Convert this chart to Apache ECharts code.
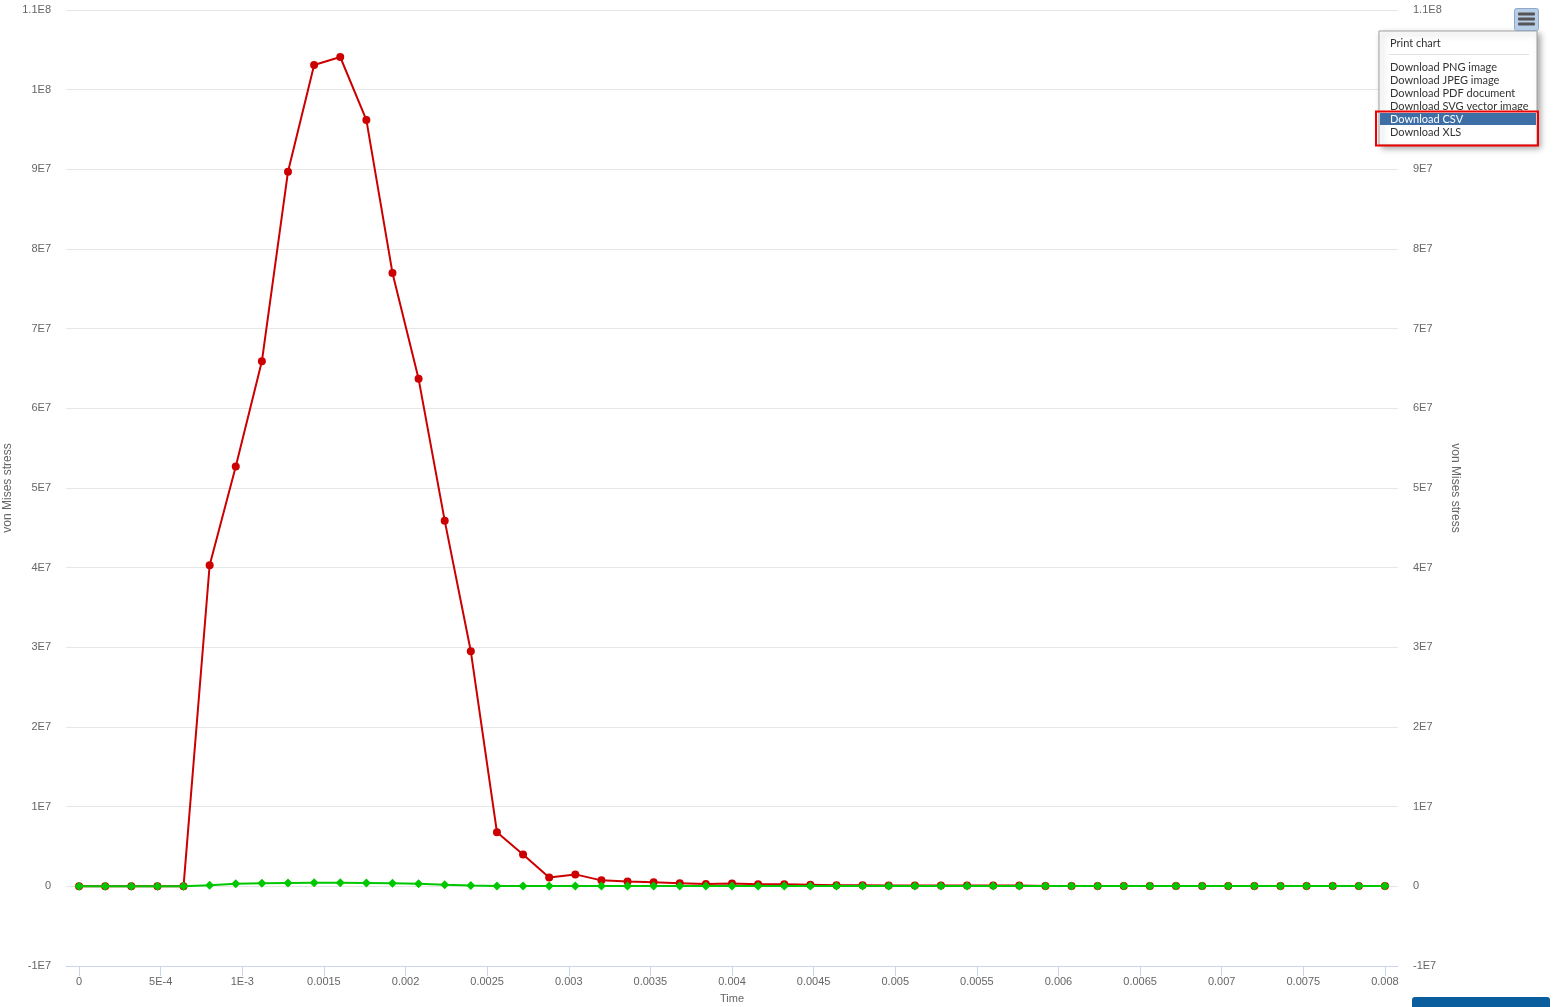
<!DOCTYPE html>
<html>
<head>
<meta charset="utf-8">
<script src="https://cdn.jsdelivr.net/npm/echarts@6/dist/echarts.min.js"></script>
<style>
html,body{margin:0;padding:0;background:#fff;}
#chart{width:1559px;height:1007px;}
</style>
</head>
<body>
<div id="chart"></div>
<script>
// ---- data ----
const timeValues = [0,0.00016,0.00032,0.00048,0.00064,0.0008,0.00096,0.00112,0.00128,0.00144,0.0016,0.00176,0.00192,0.00208,0.00224,0.0024,0.00256,0.00272,0.00288,0.00304,0.0032,0.00336,0.00352,0.00368,0.00384,0.004,0.00416,0.00432,0.00448,0.00464,0.0048,0.00496,0.00512,0.00528,0.00544,0.0056,0.00576,0.00592,0.00608,0.00624,0.0064,0.00656,0.00672,0.00688,0.00704,0.0072,0.00736,0.00752,0.00768,0.00784,0.008];
const redStress = [0,0,0,0,0,4.03e7,5.27e7,6.59e7,8.97e7,1.031e8,1.041e8,9.62e7,7.70e7,6.37e7,4.59e7,2.95e7,6.8e6,4.0e6,1.1e6,1.5e6,7.5e5,6e5,5e5,4e5,3e5,3.5e5,2.5e5,2.5e5,2e5,1.5e5,1.5e5,1e5,1e5,1e5,1e5,1e5,1e5,5e4,5e4,5e4,5e4,5e4,5e4,5e4,5e4,5e4,5e4,5e4,5e4,5e4,5e4];
const greenStress = [0,0,0,0,0,1.5e5,3.2e5,4e5,4.3e5,4.4e5,4.4e5,4.3e5,4e5,3.2e5,2e5,1.2e5,5e4,5e4,5e4,5e4,5e4,5e4,5e4,5e4,5e4,5e4,5e4,5e4,5e4,5e4,5e4,5e4,5e4,5e4,5e4,5e4,5e4,5e4,5e4,5e4,5e4,5e4,5e4,5e4,5e4,5e4,5e4,5e4,5e4,5e4,5e4];
const xTickValues = [0,0.0005,0.001,0.0015,0.002,0.0025,0.003,0.0035,0.004,0.0045,0.005,0.0055,0.006,0.0065,0.007,0.0075,0.008];
const xTickLabels = ['0','5E-4','1E-3','0.0015','0.002','0.0025','0.003','0.0035','0.004','0.0045','0.005','0.0055','0.006','0.0065','0.007','0.0075','0.008'];
const menuItems = ['Print chart','Download PNG image','Download JPEG image','Download PDF document','Download SVG vector image','Download CSV','Download XLS'];
const xAxisName = 'Time';
const yAxisName = 'von Mises stress';

function fmtY(v){
  if (Math.abs(v) < 1) return '0';
  const e = Math.floor(Math.log10(Math.abs(v)) + 1e-9);
  let m = v / Math.pow(10, e);
  m = Math.round(m * 100) / 100;
  return m + 'E' + e;
}

const redData = timeValues.map((t,i)=>[t, redStress[i]]);
const greenData = timeValues.map((t,i)=>[t, greenStress[i]]);

const labelStyle = {color:'#666666', fontSize:11, fontFamily:'Liberation Sans, Arial, sans-serif'};

const yAxisCommon = {
  type:'value', min:-1e7, max:1.1e8, interval:1e7,
  name: yAxisName, nameLocation:'middle', nameMoveOverlap:false,
  nameTextStyle: {color:'#666666', fontSize:12, fontFamily:'Liberation Sans, Arial, sans-serif'},
  axisLine:{show:false}, axisTick:{show:false},
};

const chart = echarts.init(document.getElementById('chart'), null, {renderer:'canvas'});

// menu graphics
const menuX = 1379, menuY = 31, menuW = 158, menuH = 114;
const menuGraphics = [
  {type:'rect', shape:{x:menuX, y:menuY, width:menuW, height:menuH},
   style:{fill:'#ffffff', stroke:'#a0a0a0', lineWidth:1, shadowBlur:6, shadowOffsetX:3, shadowOffsetY:3, shadowColor:'rgba(0,0,0,0.35)'}, z:100},
  {type:'line', shape:{x1:menuX+10, y1:54.5, x2:menuX+menuW-8, y2:54.5}, style:{stroke:'#e0e0e0', lineWidth:1}, z:101},
  {type:'rect', shape:{x:1380, y:113, width:156, height:12}, style:{fill:'#3d6ea5'}, z:101},
  {type:'rect', shape:{x:1376, y:111.5, width:162, height:34}, style:{fill:'none', stroke:'#ee0000', lineWidth:2}, z:103},
];
const menuYs = [43,67,80,93,106,119,132];
menuItems.forEach((t,i)=>{
  menuGraphics.push({type:'text', x:1390, y:menuYs[i], z:102,
    style:{text:t, fill: i===5 ? '#ffffff' : '#333333', font:'11px Lato, "Open Sans", sans-serif', textVerticalAlign:'middle'}});
});
// hamburger button
menuGraphics.push({type:'rect', shape:{x:1514.5, y:8.5, width:24, height:22, r:2}, style:{fill:'#b8cde6', stroke:'#8fa8c8', lineWidth:1}, z:100});
[14,19,24].forEach(yy=>{
  menuGraphics.push({type:'rect', shape:{x:1518, y:yy-1.5, width:17, height:3, r:1}, style:{fill:'#555555'}, z:101});
});
// blue bar at bottom right
menuGraphics.push({type:'rect', shape:{x:1412, y:997, width:138, height:14, r:3}, style:{fill:'#0b5e9e'}, z:100});

chart.setOption({
  animation:false,
  backgroundColor:'#ffffff',
  grid:{left:66, right:161, top:10, bottom:41, containLabel:false, outerBoundsMode:'none'},
  xAxis:{
    type:'value', min:-0.00008, max:0.00808,
    name:xAxisName, nameLocation:'middle', nameGap:27, nameMoveOverlap:false,
    nameTextStyle:{color:'#666666', fontSize:11, fontFamily:'Liberation Sans, Arial, sans-serif'},
    axisLine:{show:true, onZero:false, lineStyle:{color:'#ccd6eb', width:1}},
    axisTick:{show:true, customValues:xTickValues, length:10, lineStyle:{color:'#ccd6eb'}},
    axisLabel:Object.assign({customValues:xTickValues, margin:10, formatter:(v)=>{
      let idx = xTickValues.findIndex(x=>Math.abs(x-v)<1e-9); return idx>=0? xTickLabels[idx] : '';}}, labelStyle),
    splitLine:{show:false}
  },
  yAxis:[
    Object.assign({}, yAxisCommon, {position:'left', nameGap:52, nameRotate:90,
      axisLabel:Object.assign({formatter:fmtY, margin:15}, labelStyle),
      splitLine:{show:true, lineStyle:{color:'#e6e6e6', width:1}}}),
    Object.assign({}, yAxisCommon, {position:'right', nameGap:51, nameRotate:-90,
      axisLabel:Object.assign({formatter:fmtY, margin:15}, labelStyle),
      splitLine:{show:false}})
  ],
  series:[
    {type:'line', name:'red', data:redData, yAxisIndex:0, symbol:'circle', symbolSize:8,
     lineStyle:{color:'#cc0000', width:2}, itemStyle:{color:'#cc0000'}, z:2},
    {type:'line', name:'green', data:greenData, yAxisIndex:0, symbol:'diamond', symbolSize:9,
     lineStyle:{color:'#00c800', width:2}, itemStyle:{color:'#00c800'}, z:3}
  ],
  graphic: menuGraphics
});
</script>
</body>
</html>
